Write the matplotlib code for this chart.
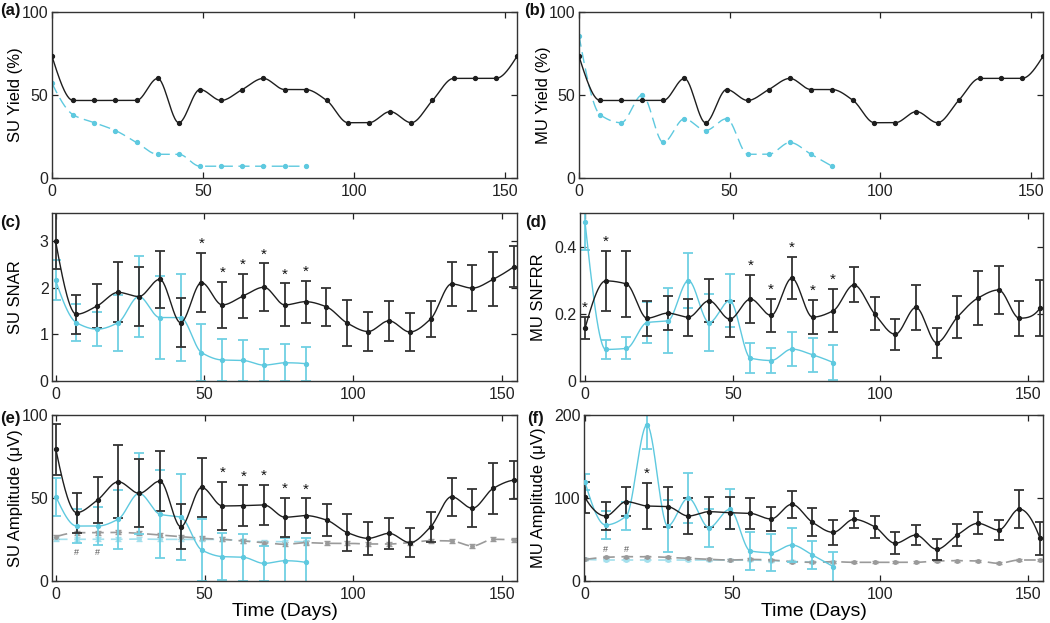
import numpy as np
import matplotlib
matplotlib.use("Agg")
import matplotlib.pyplot as plt

plt.rcParams['font.family'] = ['Liberation Sans', 'DejaVu Sans']

# ---------------- data ----------------
days_ctl = [0, 7, 14, 21, 28, 35, 42, 49, 56, 63, 70, 77, 84, 91, 98, 105,
            112, 119, 126, 133, 140, 147, 154]
days_trt = [0, 7, 14, 21, 28, 35, 42, 49, 56, 63, 70, 77, 84]

su_yield_ctl = [73.3, 46.7, 46.7, 46.7, 46.7, 60, 33.3, 53.3, 46.7, 53.3, 60, 53.3,
                53.3, 46.7, 33.3, 33.3, 40, 33.3, 46.7, 60, 60, 60, 73.3]
su_yield_trt = [57.1, 38.1, 33.3, 28.6, 21.4, 14.3, 14.3, 7.1, 7.1, 7.1, 7.1, 7.1, 7.1]
mu_yield_ctl = [73.3, 46.7, 46.7, 46.7, 46.7, 60, 33.3, 53.3, 46.7, 53.3, 60, 53.3,
                53.3, 46.7, 33.3, 33.3, 40, 33.3, 46.7, 60, 60, 60, 73.3]
mu_yield_trt = [85.7, 38.1, 33.3, 50, 21.4, 35.7, 28.6, 35.7, 14.3, 14.3, 21.4, 14.3, 7.1]

snar_ctl = [3.0, 1.43, 1.61, 1.9, 1.81, 2.18, 1.25, 2.11, 1.63, 1.82, 2.01, 1.63, 1.7,
            1.59, 1.24, 1.06, 1.29, 1.05, 1.33, 2.08, 1.99, 2.18, 2.45]
snar_ctl_err = [0.6, 0.42, 0.47, 0.64, 0.63, 0.61, 0.52, 0.64, 0.5, 0.47, 0.51, 0.46, 0.45,
                0.41, 0.49, 0.41, 0.43, 0.4, 0.38, 0.47, 0.49, 0.58, 0.44]
snar_trt = [2.16, 1.25, 1.11, 1.25, 1.81, 1.36, 1.36, 0.61, 0.45, 0.44, 0.34, 0.39, 0.37]
snar_trt_err = [0.43, 0.4, 0.37, 0.6, 0.87, 0.88, 0.94, 0.62, 0.45, 0.43, 0.34, 0.4, 0.36]
snar_star_days = [49, 56, 63, 70, 77, 84]

snfrr_ctl = [0.157, 0.298, 0.289, 0.187, 0.202, 0.19, 0.239, 0.184, 0.244, 0.195, 0.306,
             0.19, 0.209, 0.286, 0.2, 0.139, 0.219, 0.114, 0.19, 0.247, 0.271, 0.187, 0.217]
snfrr_ctl_err = [0.033, 0.09, 0.098, 0.052, 0.051, 0.055, 0.064, 0.053, 0.072, 0.05, 0.062,
                 0.05, 0.064, 0.052, 0.049, 0.047, 0.066, 0.045, 0.062, 0.08, 0.072, 0.052, 0.083]
snfrr_trt = [0.473, 0.094, 0.097, 0.174, 0.179, 0.299, 0.174, 0.239, 0.068, 0.061, 0.095,
             0.078, 0.055]
snfrr_trt_err = [0.083, 0.029, 0.033, 0.06, 0.097, 0.082, 0.084, 0.078, 0.045, 0.038, 0.05,
                 0.051, 0.052]
snfrr_star_days = [0, 7, 56, 63, 70, 77, 84]

suamp_ctl = [79.3, 41.2, 48.8, 59.8, 52.8, 60.2, 32.7, 56.4, 45.2, 45.4, 45.8, 38.4, 39.4,
             36.7, 29.1, 25.7, 28.7, 23.1, 32.7, 50.8, 43.8, 55.8, 60.8]
suamp_ctl_err = [15.3, 12, 14, 22, 20.5, 18.3, 13.7, 17.6, 14.3, 12.2, 12, 11.6, 10.3,
                 9.5, 11.3, 10, 9.5, 8.9, 9, 11.5, 11.4, 15.3, 11.6]
suamp_trt = [50.8, 33.1, 33.1, 37.3, 52.8, 40.2, 38.4, 18.7, 14.7, 14.3, 10.6, 12.2, 11.2]
suamp_trt_err = [11.5, 10.5, 11.5, 17.8, 24.5, 26.4, 25.8, 18.5, 14, 14, 10.6, 14, 15]
sunoise_ctl = [26.7, 29.1, 29.1, 29.3, 28.7, 27.7, 26.7, 25.7, 25.1, 24.1, 23.1, 22.1, 23.1,
               22.7, 22.7, 22.3, 22.3, 23.1, 24.3, 24.1, 21.1, 25.1, 24.7]
sunoise_trt = [25.1, 25.1, 25.1, 25.1, 25.3, 25.1, 25.1, 25.1, 25.1, 24.1, 23.7, 23.7, 23.7]
suamp_star_days = [56, 63, 70, 77, 84]
suamp_hash_days = [7, 14]

muamp_ctl = [100.8, 78.3, 95.6, 90.4, 89.6, 78.3, 83.5, 82.3, 81.5, 74.7, 92.4, 70.7, 58.6,
             74.3, 65.5, 45.4, 55.4, 38.2, 55.4, 69.5, 61.4, 86.7, 51.4]
muamp_ctl_err = [19, 16.5, 17.3, 28, 24, 21.7, 18, 19.5, 19, 14.3, 15.9, 17, 14.7,
                 10.4, 13.3, 13.3, 11.8, 12.7, 13.4, 13.4, 12, 22.5, 19.5]
muamp_trt = [119.7, 67.5, 78.3, 188, 66.3, 100, 64.3, 86.3, 36.1, 34.1, 43.4, 31.3, 17.3]
muamp_trt_err = [9.6, 16.7, 17, 29, 31, 30, 23, 24, 23, 22, 20, 16.5, 18]
munoise_ctl = [26, 28.5, 29.3, 29.3, 28.5, 27.3, 26.1, 25.3, 26, 25.3, 23.3, 22.5, 23.3,
               22.5, 22.5, 22.5, 22.5, 24.1, 24.5, 24.1, 21.3, 25.3, 25.3]
munoise_trt = [26, 25.3, 25.3, 25.3, 25.3, 25.3, 25.3, 25.3, 25.3, 24.5, 23.5, 23, 22.5]
muamp_star_days = [21]
muamp_hash_days = [7, 14]

# ---------------- style ----------------
C_BLK = '#1e1e1e'
C_BLK_ERR = '#333333'
C_CYN = '#5ec9df'
C_CYN_ERR = '#6fd0e3'
C_GRY = '#9a9a9a'
C_CYN_N = '#a4e0ed'


def pchip(x, y, xn):
    x = np.asarray(x, float)
    y = np.asarray(y, float)
    h = np.diff(x)
    dl = np.diff(y) / h
    n = len(x)
    d = np.zeros(n)
    for k in range(1, n - 1):
        if dl[k - 1] * dl[k] > 0:
            w1 = 2 * h[k] + h[k - 1]
            w2 = h[k] + 2 * h[k - 1]
            d[k] = (w1 + w2) / (w1 / dl[k - 1] + w2 / dl[k])

    def endslope(h0, h1, d0, d1):
        s = ((2 * h0 + h1) * d0 - h0 * d1) / (h0 + h1)
        if np.sign(s) != np.sign(d0):
            s = 0.0
        elif np.sign(d0) != np.sign(d1) and abs(s) > abs(3 * d0):
            s = 3 * d0
        return s
    d[0] = endslope(h[0], h[1], dl[0], dl[1])
    d[-1] = endslope(h[-1], h[-2], dl[-1], dl[-2])
    xn = np.asarray(xn, float)
    idx = np.clip(np.searchsorted(x, xn) - 1, 0, n - 2)
    t = (xn - x[idx]) / h[idx]
    h00 = 2 * t**3 - 3 * t**2 + 1
    h10 = t**3 - 2 * t**2 + t
    h01 = -2 * t**3 + 3 * t**2
    h11 = t**3 - t**2
    return (h00 * y[idx] + h10 * h[idx] * d[idx] + h01 * y[idx + 1]
            + h11 * h[idx] * d[idx + 1])


def smooth(ax, x, y, color, lw=1.0, dashes=None, z=3):
    xs = np.linspace(x[0], x[-1], 600)
    ys = pchip(x, y, xs)
    line, = ax.plot(xs, ys, color=color, lw=lw, zorder=z)
    if dashes is not None:
        line.set_dashes(dashes)
    ax.plot(x, y, 'o', color=color, ms=2.8, zorder=z + 0.1)


def errs(ax, x, y, e, color, lw=1.3, cap=3.4, z=2):
    ax.errorbar(x, y, yerr=e, fmt='none', ecolor=color, elinewidth=lw,
                capsize=cap, capthick=lw, zorder=z)


def noise(ax, x, y, color, z=1.5):
    xs = np.linspace(x[0], x[-1], 600)
    line, = ax.plot(xs, pchip(x, y, xs), color=color, lw=1.2, zorder=z)
    line.set_dashes((7, 4))
    ax.errorbar(x, y, yerr=[1.2] * len(x), fmt='o', ms=2.5, color=color,
                ecolor=color, elinewidth=1.0, capsize=2.5, capthick=1.0, zorder=z)


def stars(ax, days, x, y, e, dy_pts=1.5):
    for dd in days:
        i = x.index(dd)
        ax.annotate('*', xy=(dd, y[i] + e[i]), xytext=(0, dy_pts),
                    textcoords='offset points', ha='center', va='bottom',
                    fontsize=11, color='#111111', zorder=6)


def hashes(ax, days, yval):
    for dd in days:
        ax.text(dd, yval, '#', ha='center', va='center', fontsize=6.5,
                color='#555555', zorder=6)


fig = plt.figure(figsize=(10.5, 6.23), dpi=100)
W, H = 1050.0, 623.0


def mkax(l, r, t, b):
    return fig.add_axes([l / W, 1 - b / H, (r - l) / W, (b - t) / H])


axa = mkax(52, 517, 12, 178)
axb = mkax(579, 1043, 12, 178)
axc = mkax(52, 517, 213, 381)
axd = mkax(580, 1043, 213, 381)
axe = mkax(52, 517, 415, 581)
axf = mkax(584, 1043, 415, 581)

for ax in (axa, axb, axc, axd, axe, axf):
    ax.tick_params(direction='in', length=4, width=0.9, top=True, right=True,
                   labelsize=11.5, colors='#222222')
    ax.tick_params(axis='y', pad=2.5)
    ax.tick_params(axis='x', pad=4)
    for s in ax.spines.values():
        s.set_linewidth(1.0)
        s.set_color('#333333')
    ax.set_xticks([0, 50, 100, 150])

YL = 12

# (a)
smooth(axa, days_trt, su_yield_trt, C_CYN, dashes=(8, 4), z=2)
smooth(axa, days_ctl, su_yield_ctl, C_BLK)
axa.set_xlim(0, 154)
axa.set_ylim(0, 100)
axa.set_yticks([0, 50, 100])
axa.set_ylabel('SU Yield (%)', fontsize=YL)

# (b)
smooth(axb, days_trt, mu_yield_trt, C_CYN, dashes=(8, 4), z=2)
smooth(axb, days_ctl, mu_yield_ctl, C_BLK)
axb.set_xlim(0, 154)
axb.set_ylim(0, 100)
axb.set_yticks([0, 50, 100])
axb.set_ylabel('MU Yield (%)', fontsize=YL)

# (c)
errs(axc, days_trt, snar_trt, snar_trt_err, C_CYN_ERR)
smooth(axc, days_trt, snar_trt, C_CYN, z=2.5)
errs(axc, days_ctl, snar_ctl, snar_ctl_err, C_BLK_ERR)
smooth(axc, days_ctl, snar_ctl, C_BLK)
stars(axc, snar_star_days, days_ctl, snar_ctl, snar_ctl_err)
axc.set_xlim(-1.2, 155)
axc.set_ylim(0, 3.6)
axc.set_yticks([0, 1, 2, 3])
axc.set_ylabel('SU SNAR', fontsize=YL)

# (d)
errs(axd, days_trt, snfrr_trt, snfrr_trt_err, C_CYN_ERR)
smooth(axd, days_trt, snfrr_trt, C_CYN, z=2.5)
errs(axd, days_ctl, snfrr_ctl, snfrr_ctl_err, C_BLK_ERR)
smooth(axd, days_ctl, snfrr_ctl, C_BLK)
stars(axd, snfrr_star_days, days_ctl, snfrr_ctl, snfrr_ctl_err)
axd.set_xlim(-1.7, 155)
axd.set_ylim(0, 0.5)
axd.set_yticks([0, 0.2, 0.4])
axd.set_yticklabels(['0', '0.2', '0.4'])
axd.set_ylabel('MU SNFRR', fontsize=YL)

# (e)
noise(axe, days_trt, sunoise_trt, C_CYN_N)
noise(axe, days_ctl, sunoise_ctl, C_GRY)
errs(axe, days_trt, suamp_trt, suamp_trt_err, C_CYN_ERR)
smooth(axe, days_trt, suamp_trt, C_CYN, z=2.5)
errs(axe, days_ctl, suamp_ctl, suamp_ctl_err, C_BLK_ERR)
smooth(axe, days_ctl, suamp_ctl, C_BLK)
stars(axe, suamp_star_days, days_ctl, suamp_ctl, suamp_ctl_err)
hashes(axe, suamp_hash_days, 17)
axe.set_xlim(-1.3, 155)
axe.set_ylim(0, 100)
axe.set_yticks([0, 50, 100])
axe.set_ylabel('SU Amplitude (\u03bcV)', fontsize=YL)
axe.set_xlabel('Time (Days)', fontsize=14, labelpad=1)

# (f)
noise(axf, days_trt, munoise_trt, C_CYN_N)
noise(axf, days_ctl, munoise_ctl, C_GRY)
errs(axf, days_trt, muamp_trt, muamp_trt_err, C_CYN_ERR)
smooth(axf, days_trt, muamp_trt, C_CYN, z=2.5)
errs(axf, days_ctl, muamp_ctl, muamp_ctl_err, C_BLK_ERR)
smooth(axf, days_ctl, muamp_ctl, C_BLK)
stars(axf, muamp_star_days, days_ctl, muamp_ctl, muamp_ctl_err)
hashes(axf, muamp_hash_days, 38)
axf.set_xlim(-0.3, 155)
axf.set_ylim(0, 200)
axf.set_yticks([0, 100, 200])
axf.set_ylabel('MU Amplitude (\u03bcV)', fontsize=YL)
axf.set_xlabel('Time (Days)', fontsize=14, labelpad=1)

# y-label positions
for ax in (axa, axc, axe):
    ax.yaxis.set_label_coords((23 - 52) / 465.0, 0.5)
axb.yaxis.set_label_coords((551 - 579) / 464.0, 0.5)
axd.yaxis.set_label_coords((546 - 580) / 463.0, 0.5)
axf.yaxis.set_label_coords((546 - 584) / 459.0, 0.5)

# panel letters
for lab, xp, yp in (('(a)', 0, 11), ('(b)', 524, 11), ('(c)', 0, 223),
                    ('(d)', 525, 223), ('(e)', 0, 418), ('(f)', 527, 418)):
    fig.text(xp / W, 1 - yp / H, lab, fontsize=12, fontweight='bold',
             ha='left', va='center', color='#111111')

fig.savefig('out.png', dpi=100)
